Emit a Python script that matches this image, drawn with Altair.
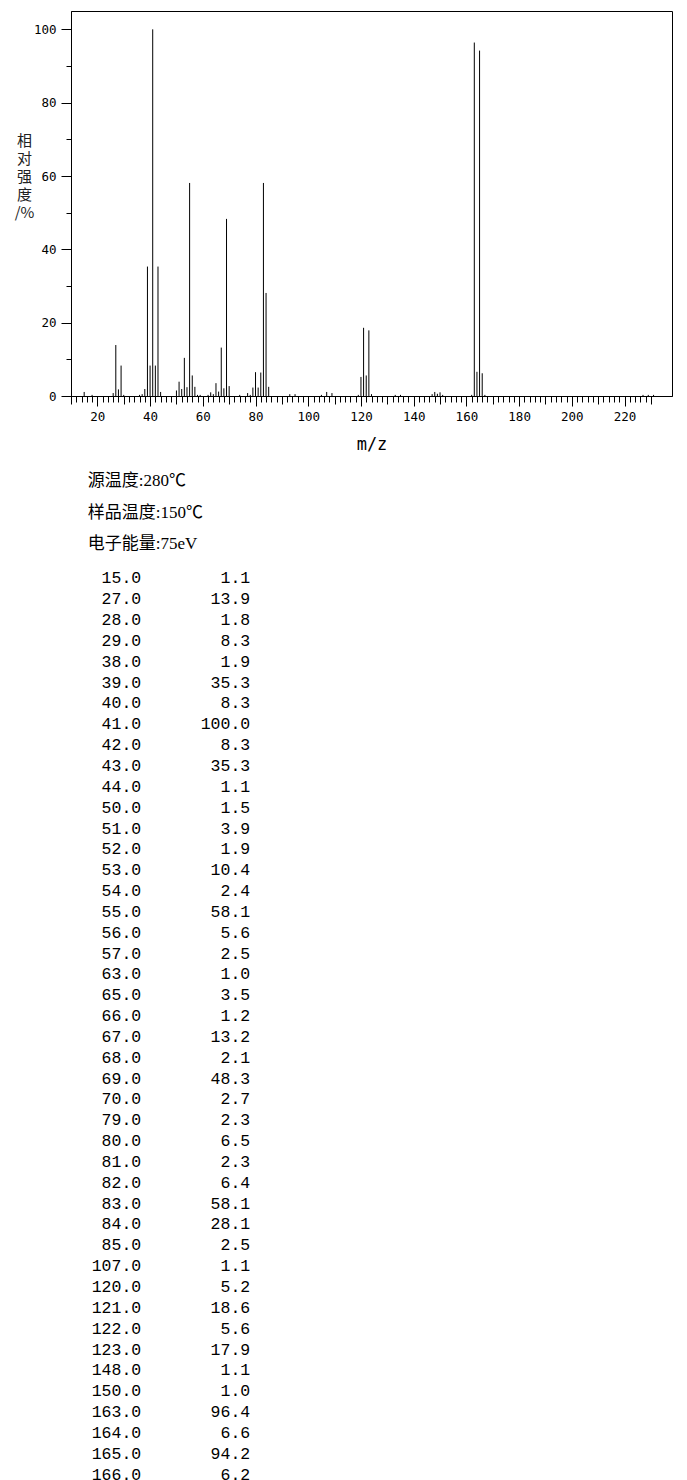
import altair as alt
import pandas as pd

# Peak list (as printed in the table)
mz_table = [15, 27, 28, 29, 38, 39, 40, 41, 42, 43, 44, 50, 51, 52, 53, 54, 55, 56, 57,
            63, 65, 66, 67, 68, 69, 70, 79, 80, 81, 82, 83, 84, 85, 107, 120, 121, 122,
            123, 148, 150, 163, 164, 165, 166]
int_table = [1.1, 13.9, 1.8, 8.3, 1.9, 35.3, 8.3, 100.0, 8.3, 35.3, 1.1, 1.5, 3.9, 1.9,
             10.4, 2.4, 58.1, 5.6, 2.5, 1.0, 3.5, 1.2, 13.2, 2.1, 48.3, 2.7, 2.3, 6.5, 2.3,
             6.4, 58.1, 28.1, 2.5, 1.1, 5.2, 18.6, 5.6, 17.9, 1.1, 1.0, 96.4, 6.6, 94.2, 6.2]

# Small peaks visible in the plot but below the table threshold (estimated)
mz_minor = [18, 26, 30, 36, 37, 58, 59, 62, 64, 74, 77, 78, 93, 95, 105, 109, 119, 124,
            133, 135, 147, 149, 151, 162, 167, 227, 229, 231]
int_minor = [0.3, 0.8, 0.3, 0.3, 0.5, 0.3, 0.3, 0.3, 0.5, 0.3, 0.8, 0.3, 0.5, 0.5, 0.3,
             0.8, 0.3, 0.5, 0.3, 0.3, 0.5, 0.6, 0.3, 0.3, 0.3, 0.3, 0.3, 0.3]

header_lines = ["源温度:280℃", "样品温度:150℃", "电子能量:75eV"]

x_tick_values = list(range(10, 231, 2))
y_tick_values = list(range(0, 101, 10))

AXIS_FONT = "DejaVu Sans Mono"

spec_df = pd.DataFrame({"mz": mz_table + mz_minor, "rel": int_table + int_minor})

spectrum = alt.Chart(spec_df).mark_rule(color="black", strokeWidth=1).encode(
    x=alt.X(
        "mz:Q",
        scale=alt.Scale(domain=[10, 238], nice=False, zero=False),
        axis=alt.Axis(
            values=x_tick_values,
            labelExpr="datum.value % 20 === 0 ? datum.label : ''",
            tickSize={"condition": [
                {"test": "datum.value % 20 === 0", "value": 10},
                {"test": "datum.value % 10 === 0", "value": 8}], "value": 6},
            grid=False, domainColor="black", tickColor="black",
            labelFont=AXIS_FONT, labelFontSize=12.5, labelColor="black",
            labelOverlap=False, labelFlush=False, labelPadding=4,
            title="m/z", titleFont=AXIS_FONT, titleFontSize=17,
            titleFontWeight="normal", titleColor="black",
            titleY=53, titleBaseline="alphabetic",
        ),
    ),
    y=alt.Y(
        "rel:Q",
        scale=alt.Scale(domain=[0, 105], nice=False),
        axis=alt.Axis(
            values=y_tick_values,
            labelExpr="datum.value % 20 === 0 ? datum.label : ''",
            tickSize={"condition": {"test": "datum.value % 20 === 0", "value": 10}, "value": 5},
            grid=False, domainColor="black", tickColor="black",
            labelFont=AXIS_FONT, labelFontSize=12.5, labelColor="black",
            labelOverlap=False, labelFlush=False, labelPadding=5,
            title=["相", "对", "强", "度", "/%"], titleAngle=0,
            titleFont="Noto Sans CJK SC", titleFontSize=15, titleFontWeight="normal",
            titleColor="#222222", titleLineHeight=18,
            titleX=-47, titleY=122, titleAlign="center", titleBaseline="top",
        ),
    ),
    y2=alt.datum(0),
).properties(width=601, height=385,
             view=alt.ViewBackground(stroke="black", strokeWidth=1))

hdr_df = pd.DataFrame({"line": list(range(len(header_lines))), "text": header_lines})
header = alt.Chart(hdr_df).mark_text(
    align="left", baseline="middle", font="Liberation Serif, Noto Sans CJK SC",
    fontSize=17, color="black",
).encode(
    x=alt.value(16.7),
    y=alt.Y("line:Q", scale=alt.Scale(domain=[-0.645, 2.5], reverse=True, nice=False,
                                      zero=False), axis=None),
    text="text:N",
).properties(width=601, height=99)

tbl_df = pd.DataFrame({
    "row": list(range(len(mz_table))),
    "mz_label": [f"{m:.1f}" for m in mz_table],
    "rel_label": [f"{v:.1f}" for v in int_table],
})
tbl_base = alt.Chart(tbl_df).encode(
    y=alt.Y("row:Q", scale=alt.Scale(domain=[-0.5, len(mz_table) - 0.5], reverse=True,
                                     nice=False, zero=False), axis=None)
)
col1 = tbl_base.mark_text(align="right", baseline="middle", font="Liberation Mono",
                          fontSize=16.5, color="black").encode(
    x=alt.value(70.2), text="mz_label:N")
col2 = tbl_base.mark_text(align="right", baseline="middle", font="Liberation Mono",
                          fontSize=16.5, color="black").encode(
    x=alt.value(179.2), text="rel_label:N")
table = alt.layer(col1, col2).properties(width=601, height=917)

chart = alt.vconcat(spectrum, header, table, spacing=8).properties(
    padding={"left": 5, "top": 2, "right": 0, "bottom": 0}
).configure_view(stroke=None)

chart.save("out.html", embed_options={"renderer": "svg", "actions": False})
